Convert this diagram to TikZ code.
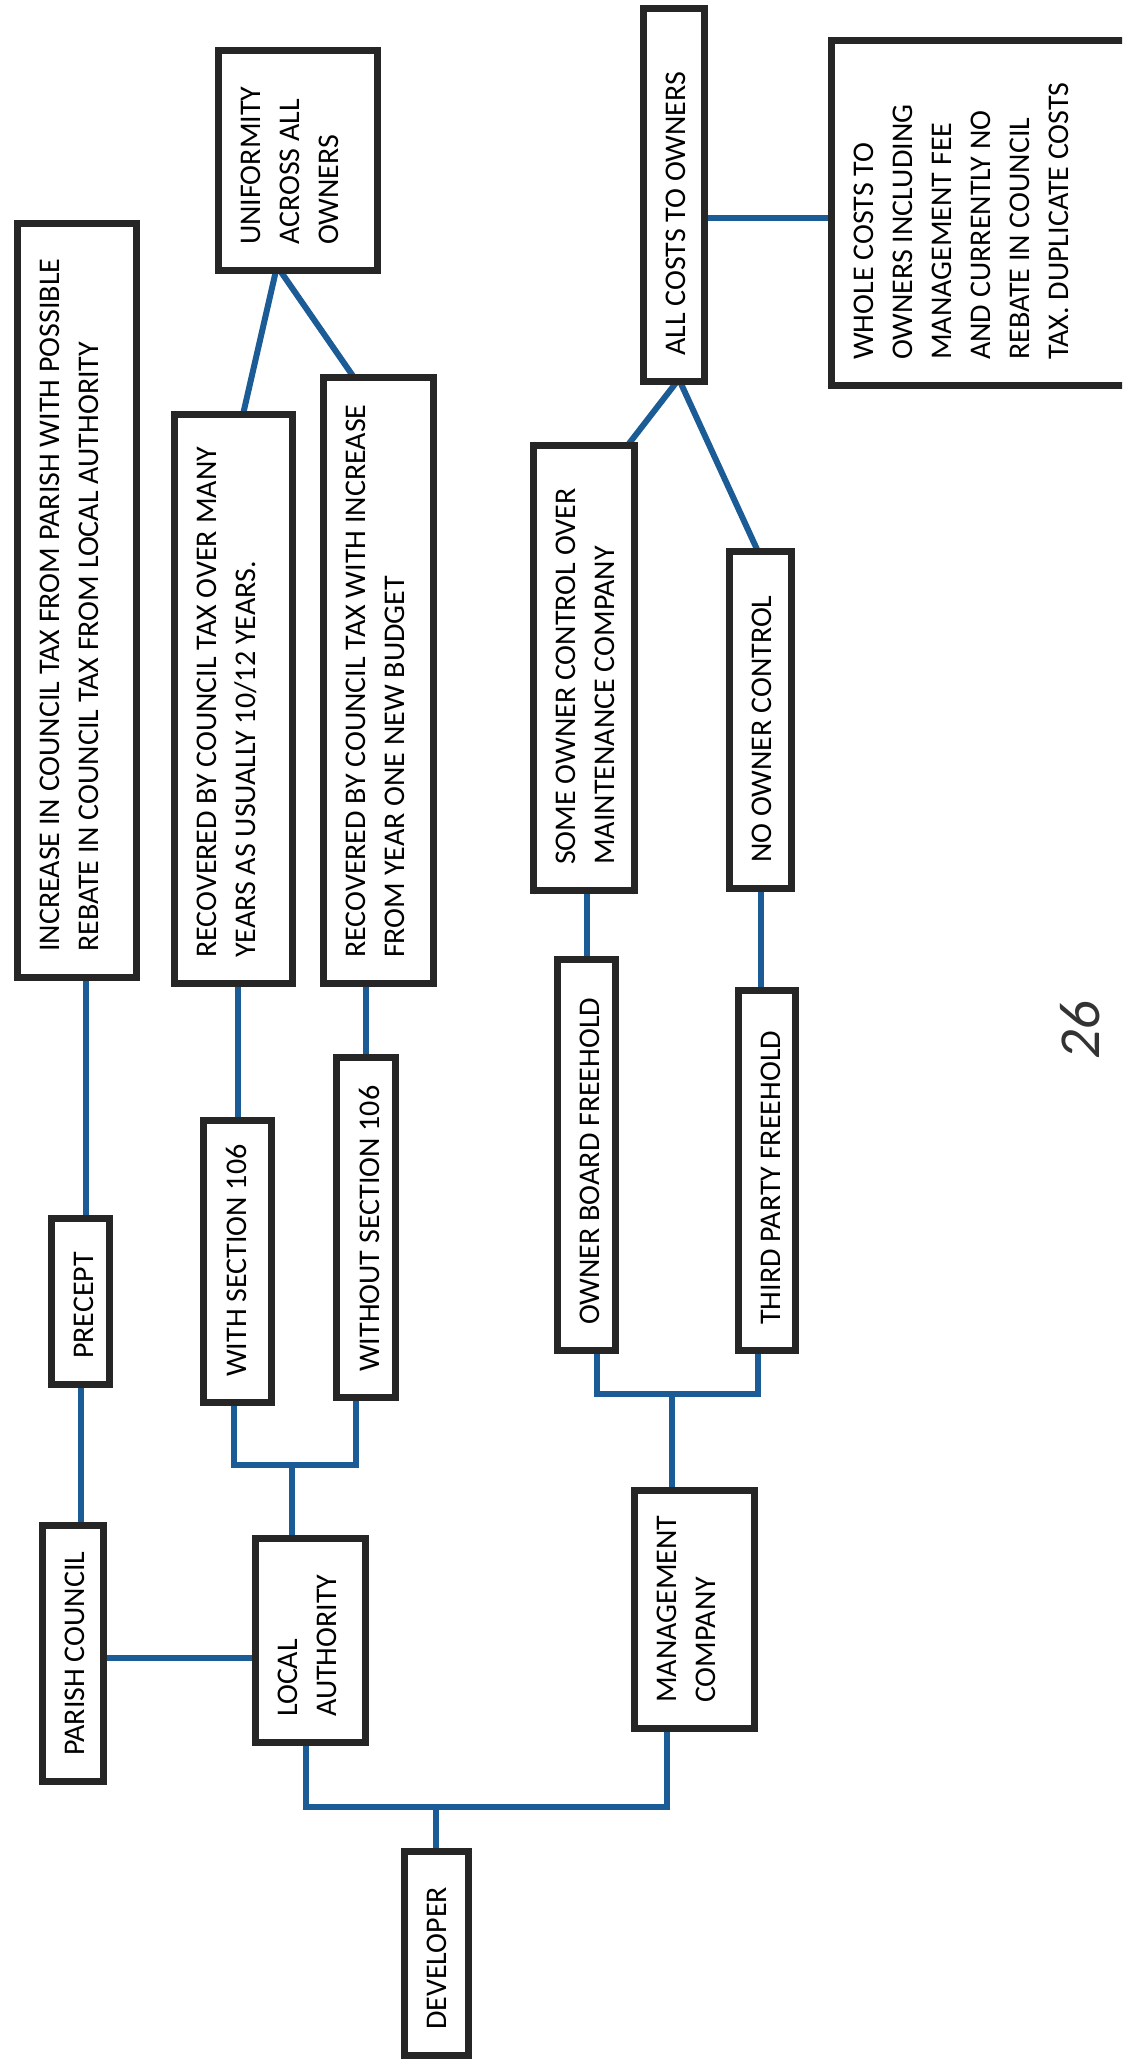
\documentclass[tikz,border=0pt]{standalone}
\usepackage{fontspec}
\setmainfont{Carlito}
\usetikzlibrary{calc}
\pgfdeclarelayer{background}
\pgfsetlayers{background,main}
\definecolor{bordergray}{RGB}{38,38,38}
\definecolor{linkblue}{RGB}{28,92,150}
\tikzset{
  boxshape/.style={draw=bordergray, line width=7pt, rectangle, inner sep=0pt, outer sep=0pt, fill=white},
  boxtext/.style={rotate=90, anchor=north west, inner sep=0pt, align=left, font=\fontsize{30}{39}\selectfont, text=black},
  conn/.style={draw=linkblue, line width=6pt},
}
% name x1 y1 x2 y2 text  (outer box edges, image pixel coordinates)
\newcommand{\mkbox}[6]{%
  \node[boxshape, minimum width={#4-#2-7}, minimum height={#5-#3-7}] (#1) at ({(#2+#4)/2},{(#3+#5)/2}) {};
  \node[boxtext] (#1-t) at ({#2+26},{#5-29}) {#6};
}
\begin{document}
\begin{tikzpicture}[x=1pt,y=-1pt]
\path[use as bounding box] (0,0) rectangle (1122,2060);
\clip (0,0) rectangle (1122,2060);

\mkbox{increase}{14}{220}{140}{981}{INCREASE IN COUNCIL TAX FROM PARISH WITH POSSIBLE\\REBATE IN COUNCIL TAX FROM LOCAL AUTHORITY}
\mkbox{unif}{215}{47}{381}{274}{UNIFORMITY\\ACROSS ALL\\OWNERS}
\mkbox{rec1}{171}{411}{296}{987}{RECOVERED BY COUNCIL TAX OVER MANY\\YEARS AS USUALLY 10/12 YEARS.}
\mkbox{rec2}{320}{374}{437}{987}{RECOVERED BY COUNCIL TAX WITH INCREASE\\FROM YEAR ONE NEW BUDGET}
\mkbox{allc}{640}{5}{708}{385}{ALL COSTS TO OWNERS}
\mkbox{whole}{828}{37}{1140}{389}{WHOLE COSTS TO\\OWNERS INCLUDING\\MANAGEMENT FEE\\AND CURRENTLY NO\\REBATE IN COUNCIL\\TAX. DUPLICATE COSTS}
\mkbox{some}{530}{442}{638}{894}{SOME OWNER CONTROL OVER\\MAINTENANCE COMPANY}
\mkbox{no}{726}{548}{795}{892}{NO OWNER CONTROL}
\mkbox{ob}{554}{956}{619}{1354}{OWNER BOARD FREEHOLD}
\mkbox{tp}{735}{987}{799}{1354}{THIRD PARTY FREEHOLD}
\mkbox{mgmt}{631}{1487}{758}{1732}{MANAGEMENT\\COMPANY}
\mkbox{precept}{48}{1215}{113}{1388}{PRECEPT}
\mkbox{w106}{200}{1117}{275}{1406}{WITH SECTION 106}
\mkbox{wo106}{333}{1054}{399}{1401}{WITHOUT SECTION 106}
\mkbox{parish}{39}{1522}{107}{1785}{PARISH COUNCIL}
\mkbox{la}{252}{1535}{369}{1746}{LOCAL\\AUTHORITY}
\mkbox{dev}{401}{1848}{472}{2059}{DEVELOPER}

\node[rotate=90, inner sep=0pt, font=\fontsize{58}{58}\selectfont\itshape, text=black!80] (pagenum) at (1080,1030) {26};

\begin{pgfonlayer}{background}
  \coordinate (c1) at ([xshift=8.5pt]increase.south);
  \draw[conn] (c1) -- (c1 |- precept.north);
  \draw[conn] (precept.south) -- (precept.south |- parish.north);
  \coordinate (c2) at ([yshift=-4.5pt]parish.east);
  \draw[conn] (c2) -- (c2 -| la.west);
  \draw[conn] (w106.north |- rec1.south) -- (w106.north);
  \draw[conn] (wo106.north |- rec2.south) -- (wo106.north);
  \coordinate (jA) at (292,1465);
  \draw[conn] ([xshift=-3.5pt]w106.south) |- (jA) -| ([xshift=-10pt]wo106.south);
  \draw[conn] (jA) -- (jA |- la.north);
  \draw[conn] ([xshift=-22pt]unif.south) -- ([xshift=9.5pt]rec1.north);
  \draw[conn] ([xshift=-18pt]unif.south) -- ([xshift=-24.5pt]rec2.north);
  \coordinate (c3) at ([yshift=-23pt]allc.east);
  \draw[conn] (c3) -- (c3 -| whole.west);
  \draw[conn] ([xshift=3pt]allc.south) -- ([xshift=-7pt]some.north east);
  \draw[conn] ([xshift=6pt]allc.south) -- ([xshift=-2.5pt]no.north);
  \draw[conn] (ob.north |- some.south) -- (ob.north);
  \draw[conn] (no.south) -- (no.south |- tp.north);
  \coordinate (jB) at (672,1394);
  \draw[conn] ([xshift=10.5pt]ob.south) |- (jB) -| ([xshift=-9pt]tp.south);
  \draw[conn] (jB) -- (jB |- mgmt.north);
  \coordinate (jC) at (436,1807);
  \draw[conn] ([xshift=-4.5pt]la.south) |- (jC) -| ([xshift=-27.5pt]mgmt.south);
  \draw[conn] (jC) -- (jC |- dev.north);
\end{pgfonlayer}
\end{tikzpicture}
\end{document}
